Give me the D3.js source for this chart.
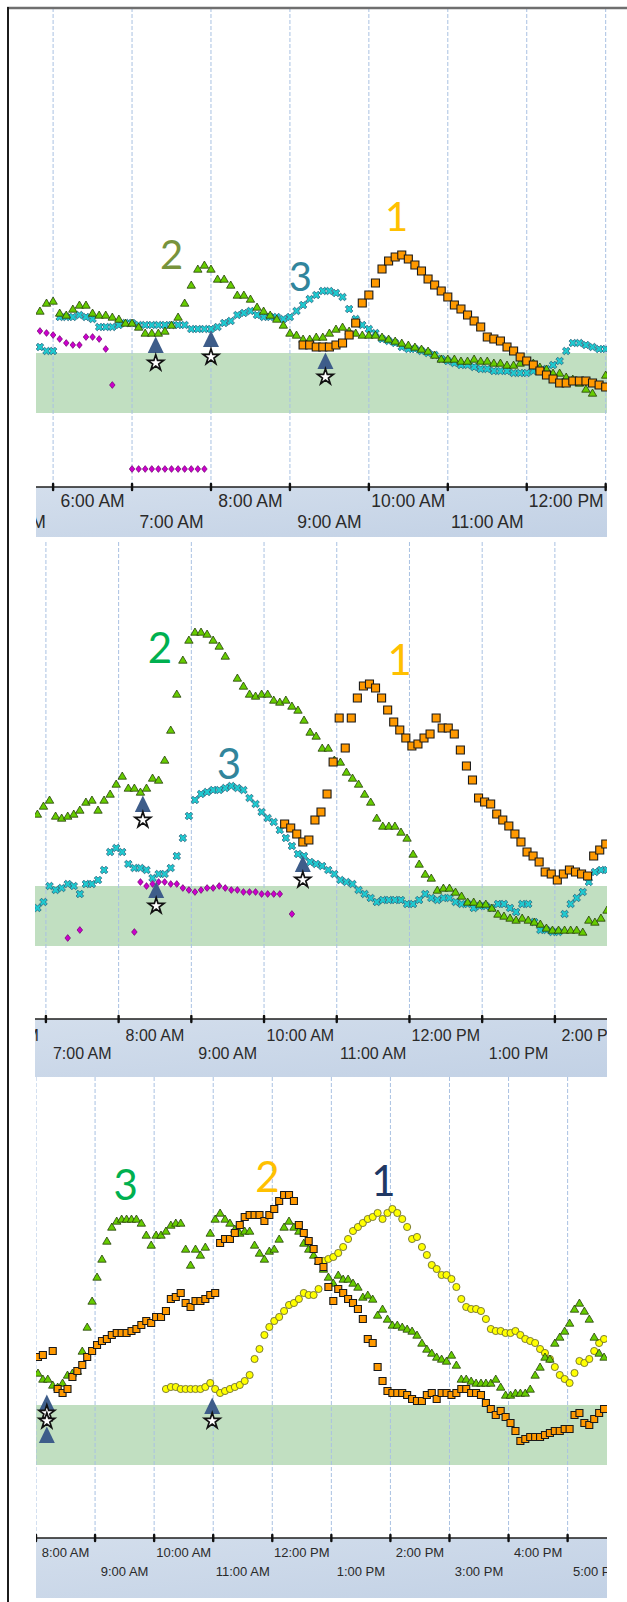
<!DOCTYPE html>
<html>
<head>
<meta charset="utf-8">
<script src="https://cdn.jsdelivr.net/npm/d3@7"></script>
<style>
  body { margin: 0; background: #fff; }
  svg { display: block; }
</style>
</head>
<body>
<svg id="chart" width="627" height="1602"></svg>
<script>
// readings are every 5 minutes from the start time, null = no reading
// values in mg/dL, target range drawn as the green band

var targetLow = 70;
var targetHigh = 100;

// ---- day 1 ----
var p1GreenStart = "5:50";
var p1Green = [121,125,126,120,119,122,124,124,120,119,
  119,118,117,115,115,113,110,110,110,111,
  114,118,125,134,142,144,142,137,137,134,
  129,129,127,123,121,119,117,114,110,109,
  107,107,108,108,110,112,113,111,110,109,
  109,109,108,107,106,105,104,103,102,101,
  99,97,97,97,96,96,97,96,96,95,
  95,94,94,95,96,95,93,92,90,90,
  88,87,85,82,80,84,89];
var p1CyanStart = "5:50";
var p1Cyan = [103,101,101,118,118,118,119,118,117,113,
  113,113,114,115,115,114,114,114,114,114,
  114,114,114,112,112,112,112,113,115,116,
  119,120,121,119,118,118,118,117,118,121,
  124,127,129,131,131,130,128,122,117,114,
  112,110,107,106,105,103,102,102,101,100,
  99,97,96,95,94,94,93,92,92,91,
  91,91,90,90,90,91,91,92,94,96,
  101,105,105,104,103,102,102];
var p1MagentaStart = "5:50";
var p1Magenta = [111,110,109,107,105,104,104,108,108,107,102,84,null,null,
  42,42,42,42,42,42,42,42,42,42,42,42];
var p1OrangeStart = "9:10";
var p1Orange = [104,104,103,103,103,104,105,109,115,125,
  129,135,142,146,148,149,147,144,141,137,
  134,131,128,124,122,119,116,113,108,107,
  106,103,101,98,96,94,91,89,87,85,
  85,86,86,86,85,84,83];
var p1EventTimes = ["7:18", "8:00", "9:27"];
var p1EventTri = [104, 107, 96];
var p1EventStar = [95, 98, 88];
var p1Labels = ["2", "3", "1"];
var p1LabelTimes = ["7:30", "9:08", "10:21"];
var p1LabelValues = [149, 138, 168];
var p1LabelColors = ["#77933c", "#31859c", "#ffc000"];

// ---- day 2 ----
var p2GreenStart = "6:53";
var p2Green = [136,140,143,135,134,135,136,138,142,143,
  138,143,146,151,155,149,149,147,149,154,
  153,163,178,196,213,223,227,227,226,223,
  220,215,null,204,200,196,195,196,196,193,
  192,193,190,188,183,177,175,169,169,163,
  162,157,154,151,146,142,134,130,130,130,
  127,124,116,111,106,104,98,99,99,97,
  95,92,92,91,91,89,86,85,84,83,
  84,83,82,81,79,78,78,78,78,78,
  77,83,82,84,88];
var p2CyanStart = "6:53";
var p2Cyan = [89,92,100,98,99,101,100,96,101,101,
  103,108,117,119,117,111,109,109,108,104,
  106,106,109,115,124,135,143,146,147,148,
  148,149,150,149,148,144,141,137,134,132,
  128,124,120,116,115,112,111,110,108,106,
  103,102,101,98,96,94,92,93,93,93,
  93,91,91,93,96,94,93,94,94,92,
  91,91,89,90,90,89,91,91,89,87,
  91,91,82,78,78,77,77,86,91,94,
  97,102,107,108,108];
var p2MagentaStart = "6:53";
var p2Magenta = [null,null,null,null,null,74,null,78,null,null,
  null,null,null,null,null,null,77,102,100,101,
  102,102,101,101,99,98,97,98,99,99,
  100,99,98,98,97,97,97,96,96,96,
  96,null,86];
var p2OrangeStart = "10:17";
var p2Orange = [131,129,126,122,123,133,137,146,162,184,
  169,184,194,200,201,199,194,188,182,178,
  174,170,171,174,176,184,179,179,176,168,
  160,153,144,142,141,136,133,130,126,122,
  117,115,112,107,106,103,106,108,107,106,
  105,115,118,121];
var p2EventTimes = ["8:20", "8:31", "10:32"];
var p2EventTri = [141, 98, 111];
var p2EventStar = [133, 90, 103];
var p2Labels = ["2", "3", "1"];
var p2LabelTimes = ["8:34", "9:31", "11:52"];
var p2LabelValues = [219, 161, 213];
var p2LabelColors = ["#00b050", "#31859c", "#ffc000"];

// ---- day 3 ----
var p3GreenStart = "8:02";
var p3Green = [116,113,113,110,109,111,115,116,117,127,
  139,152,164,173,182,189,192,193,193,193,
  193,191,185,180,185,185,187,190,191,191,
  178,170,178,175,179,186,193,196,193,191,
  188,186,187,187,180,176,173,177,178,183,
  189,192,189,187,181,178,175,172,168,164,
  161,165,163,163,161,159,154,155,153,145,
  148,143,140,140,139,138,137,135,131,128,
  126,124,123,122,125,120,113,113,112,111,
  111,111,111,113,109,105,105,106,106,106,
  108,115,119,124,123,131,134,137,141,148,
  151,147,143,134,126,124];
var p3OrangeStart = "8:02";
var p3Orange = [124,125,null,127,108,106,108,114,117,120,
  124,127,130,132,133,135,136,136,136,137,
  138,140,142,141,144,144,147,153,154,156,
  151,149,152,152,153,155,156,181,183,183,
  186,190,194,195,195,195,192,195,198,202,
  205,205,202,190,186,182,178,172,169,159,
  152,158,156,153,151,148,143,133,131,119,
  112,107,106,106,106,105,103,102,102,105,
  106,103,106,106,105,106,108,108,106,106,
  105,101,98,95,97,94,91,87,82,83,
  84,84,84,85,86,87,87,88,88,95,
  96,91,90,93,96,98];
var p3YellowStart = "10:12";
var p3Yellow = [108,109,109,108,108,108,108,108,109,111,
  108,106,107,108,109,110,112,115,123,128,
  135,139,142,144,147,150,151,153,156,155,
  155,158,172,173,174,176,179,183,187,189,
  191,193,194,196,193,196,198,196,193,189,
  183,184,179,175,170,168,165,165,163,159,
  153,149,148,148,147,143,138,137,137,136,
  136,137,135,133,132,131,128,126,123,119,
  115,113,111,116,122,121,123,127,131,133];
var p3EventTimes = ["8:11", "8:11", "10:59"];
var p3EventTri = [101, 85, 99.5];
var p3EventStar = [96, 92, 92];
var p3Labels = ["3", "2", "1"];
var p3LabelTimes = ["9:31", "11:55", "13:53"];
var p3LabelValues = [210, 214, 212];
var p3LabelColors = ["#00b050", "#ffc000", "#203864"];

// ---- helpers ----
function at(hm) {
  var p = hm.split(":");
  return new Date(2021, 0, 15, +p[0], +p[1]);
}
function readings(start, vals) {
  var t0 = at(start);
  return vals.map(function (v, i) {
    return v == null ? null : { t: d3.timeMinute.offset(t0, 5 * i), v: v };
  }).filter(function (d) { return d; });
}

var panels = [
  { top: 8, axisY: 487, stripBottom: 537, left: 36, right: 607,
    domain: ["5:47", "13:01"], vRange: [33, 272.5], tickFont: 17.5, rows: [20, 41], digitFont: 40, sq: 8,
    series: [["magenta", readings(p1MagentaStart, p1Magenta)], ["cyan", readings(p1CyanStart, p1Cyan)],
             ["green", readings(p1GreenStart, p1Green)], ["orange", readings(p1OrangeStart, p1Orange)]],
    ev: [p1EventTimes, p1EventTri, p1EventStar], lab: [p1Labels, p1LabelTimes, p1LabelValues, p1LabelColors] },
  { top: 542, axisY: 1019, stripBottom: 1077, left: 35, right: 607,
    domain: ["6:51", "14:43"], vRange: [33.5, 272], tickFont: 16, rows: [22, 40], digitFont: 42, sq: 8,
    series: [["magenta", readings(p2MagentaStart, p2Magenta)], ["cyan", readings(p2CyanStart, p2Cyan)],
             ["green", readings(p2GreenStart, p2Green)], ["orange", readings(p2OrangeStart, p2Orange)]],
    ev: [p2EventTimes, p2EventTri, p2EventStar], lab: [p2Labels, p2LabelTimes, p2LabelValues, p2LabelColors] },
  { top: 1077, axisY: 1538, stripBottom: 1598, left: 36, right: 607,
    domain: ["8:00", "17:40"], vRange: [33.5, 264], tickFont: 13, rows: [19, 38], digitFont: 42, sq: 7,
    series: [["yellow", readings(p3YellowStart, p3Yellow)], ["green", readings(p3GreenStart, p3Green)],
             ["orange", readings(p3OrangeStart, p3Orange)]],
    ev: [p3EventTimes, p3EventTri, p3EventStar], lab: [p3Labels, p3LabelTimes, p3LabelValues, p3LabelColors] }
];

var svg = d3.select("#chart");
var defs = svg.append("defs");
var grad = defs.append("linearGradient").attr("id", "strip").attr("x1", 0).attr("y1", 0).attr("x2", 1).attr("y2", 1);
grad.append("stop").attr("offset", "0%").attr("stop-color", "#d3deec");
grad.append("stop").attr("offset", "100%").attr("stop-color", "#c2d1e5");

var fmt = d3.timeFormat("%-I:%M %p");

function drawMarks(g, kind, pts, x, y, sq) {
  var sel = g.append("g").selectAll("path").data(pts).enter().append("path")
    .attr("transform", function (d) { return "translate(" + x(d.t) + "," + y(d.v) + ")"; });
  if (kind == "orange") {
    var h = sq / 2;
    sel.attr("d", "M" + -h + "," + -h + "h" + sq + "v" + sq + "h" + -sq + "Z")
      .attr("fill", "#ff9900").attr("stroke", "#1a1a1a").attr("stroke-width", 1.1);
  } else if (kind == "green") {
    sel.attr("d", "M0,-4L4.2,3.2L-4.2,3.2Z")
      .attr("fill", "#66cc00").attr("stroke", "#243f0a").attr("stroke-width", 0.8);
  } else if (kind == "cyan") {
    sel.attr("d", d3.symbol(d3.symbolCross).size(36)())
      .attr("transform", function (d) { return "translate(" + x(d.t) + "," + y(d.v) + ") rotate(45)"; })
      .attr("fill", "#1fcad0").attr("stroke", "#235a75").attr("stroke-width", 0.7);
  } else if (kind == "magenta") {
    sel.attr("d", "M0,-3.4L2.8,0L0,3.4L-2.8,0Z")
      .attr("fill", "#cc00cc").attr("stroke", "#5a005a").attr("stroke-width", 0.6);
  } else if (kind == "yellow") {
    sel.attr("d", d3.symbol(d3.symbolCircle).size(40)())
      .attr("fill", "#ffff00").attr("stroke", "#6e6e30").attr("stroke-width", 0.9);
  }
}

panels.forEach(function (p, pi) {
  var x = d3.scaleTime().domain([at(p.domain[0]), at(p.domain[1])]).range([p.left, p.right]);
  var y = d3.scaleLinear().domain(p.vRange).range([p.axisY, p.top]);

  var clipId = "clip" + pi;
  defs.append("clipPath").attr("id", clipId).append("rect")
    .attr("x", p.left).attr("y", p.top).attr("width", p.right - p.left).attr("height", p.stripBottom - p.top);

  var g = svg.append("g").attr("clip-path", "url(#" + clipId + ")");

  // target band
  g.append("rect").attr("x", p.left).attr("width", p.right - p.left)
    .attr("y", y(targetHigh)).attr("height", y(targetLow) - y(targetHigh))
    .attr("fill", "#c1dfc1");

  var hours = d3.timeHour.range(at(p.domain[0]), x.domain()[1]);
  // dashed hour lines
  g.append("g").selectAll("line").data(hours).enter().append("line")
    .attr("x1", function (d) { return x(d); }).attr("x2", function (d) { return x(d); })
    .attr("y1", p.top).attr("y2", p.axisY)
    .attr("stroke", "#a9c1e2").attr("stroke-width", 1).attr("stroke-dasharray", "4,2");

  // axis strip
  g.append("rect").attr("x", p.left).attr("y", p.axisY).attr("width", p.right - p.left)
    .attr("height", p.stripBottom - p.axisY).attr("fill", "url(#strip)");
  g.append("line").attr("x1", p.left).attr("x2", p.right).attr("y1", p.axisY).attr("y2", p.axisY)
    .attr("stroke", "#1e1e1e").attr("stroke-width", 1.5);
  g.append("g").selectAll("line").data(hours).enter().append("line")
    .attr("x1", function (d) { return x(d); }).attr("x2", function (d) { return x(d); })
    .attr("y1", p.axisY - 3).attr("y2", p.axisY + 3)
    .attr("stroke", "#111").attr("stroke-width", 2.4).attr("stroke-linecap", "round");

  // hour labels, centred on the half hour, two rows; the strip cuts the ones at the ends
  var labelHours = d3.timeHour.range(d3.timeHour.floor(d3.timeHour.offset(x.domain()[0], -1)), x.domain()[1])
    .filter(function (d) {
      var cx = x(d3.timeMinute.offset(d, 30));
      var w = fmt(d).length * 0.54 * p.tickFont;
      return cx + w / 2 > p.left + 4 && cx - w / 2 < p.right - 4;
    });
  g.append("g").selectAll("text").data(labelHours).enter().append("text")
    .attr("x", function (d) { return x(d3.timeMinute.offset(d, 30)); })
    .attr("y", function (d) { return p.axisY + (d.getHours() % 2 == 0 ? p.rows[0] : p.rows[1]); })
    .attr("text-anchor", "middle")
    .attr("font-family", "Liberation Sans, Arial, sans-serif")
    .attr("font-size", p.tickFont).attr("fill", "#2a2a2a")
    .text(function (d) { return fmt(d); });

  // readings
  p.series.forEach(function (s) { drawMarks(g, s[0], s[1], x, y, p.sq); });

  // events: triangle with a star under it
  var evs = p.ev[0].map(function (t, i) { return { t: at(t), tri: p.ev[1][i], star: p.ev[2][i] }; });
  g.append("g").selectAll("path").data(evs).enter().append("path")
    .attr("transform", function (d) { return "translate(" + x(d.t) + "," + y(d.tri) + ")"; })
    .attr("d", "M0,-8.5L8,8L-8,8Z").attr("fill", "#3e5d8a");
  g.append("g").selectAll("path").data(evs).enter().append("path")
    .attr("transform", function (d) { return "translate(" + x(d.t) + "," + y(d.star) + ")"; })
    .attr("d", d3.symbol(d3.symbolStar).size(76)())
    .attr("fill", "#fff").attr("stroke", "#111").attr("stroke-width", 1.7);

  // numbers over the peaks
  g.append("g").selectAll("text").data(p.lab[0]).enter().append("text")
    .attr("x", function (d, i) { return x(at(p.lab[1][i])); })
    .attr("y", function (d, i) { return y(p.lab[2][i]); })
    .attr("dy", "0.36em").attr("text-anchor", "middle")
    .attr("font-family", "Lato, sans-serif").attr("font-size", p.digitFont)
    .attr("fill", function (d, i) { return p.lab[3][i]; })
    .text(function (d) { return d; });
});

// frame
svg.append("line").attr("x1", 7).attr("x2", 627).attr("y1", 8).attr("y2", 8)
  .attr("stroke", "#6f6f6f").attr("stroke-width", 2.5);
svg.append("line").attr("x1", 8).attr("x2", 8).attr("y1", 7).attr("y2", 1602)
  .attr("stroke", "#1c1c1c").attr("stroke-width", 2);
</script>
</body>
</html>
